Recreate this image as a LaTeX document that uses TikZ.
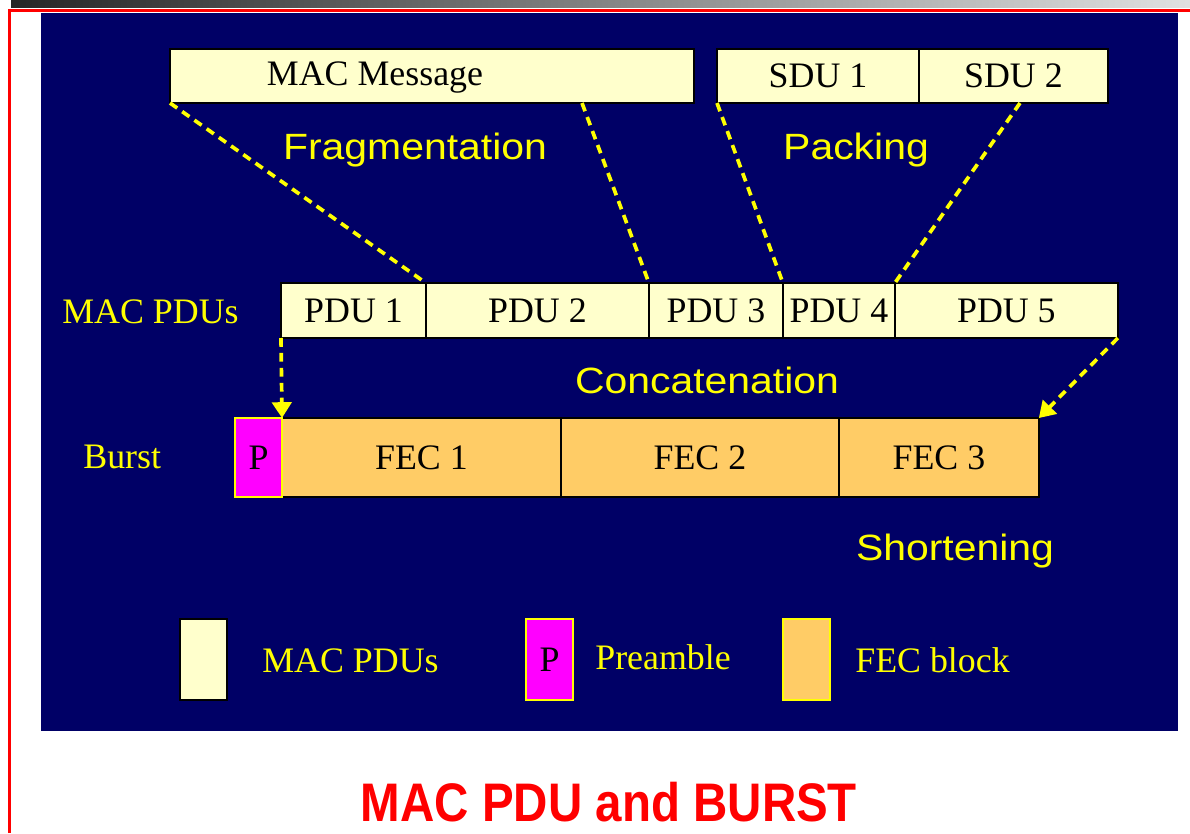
\documentclass[tikz,border=0pt]{standalone}
\usepackage{fontspec}
\setmainfont{Liberation Serif}
\newfontfamily\labelfont[FakeStretch=1.12]{Liberation Sans}
\newfontfamily\titlefont[FakeStretch=0.875]{Liberation Sans}
\usepackage{tikz}
\usetikzlibrary{positioning,arrows.meta}
\usepackage{xcolor}
\definecolor{navy}{RGB}{0,0,102}
\definecolor{cream}{RGB}{255,255,204}
\definecolor{fecorange}{RGB}{255,204,102}
\definecolor{pink}{RGB}{255,0,255}
\definecolor{lemon}{RGB}{255,255,0}
\definecolor{slidered}{RGB}{255,0,0}

\begin{document}
\begin{tikzpicture}[
    x=0.02cm, y=-0.02cm,
    serif/.style={font=\fontsize{20.4}{24}\selectfont},
    box/.style={rectangle, draw=black, line width=1.3pt, fill=cream, outer sep=0pt, inner sep=0pt, minimum height=1.1cm, serif},
    fecbox/.style={box, fill=fecorange, minimum height=1.58cm},
    preamble/.style={box, draw=lemon, fill=pink, minimum height=1.58cm, minimum width=0.94cm},
    keybox/.style={rectangle, line width=1.5pt, outer sep=0pt, inner sep=0pt, minimum width=0.94cm, minimum height=1.62cm, anchor=north west, serif},
    op/.style={text=lemon, font=\labelfont\fontsize{20.8}{24}\selectfont, inner sep=0pt, anchor=base},
    tag/.style={text=lemon, serif, inner sep=0pt, anchor=base west},
    link/.style={lemon, line width=2.1pt, dash pattern=on 5pt off 3.5pt},
    arrow/.style={link, -{Triangle[width=11pt,length=9pt]}}
]
\useasboundingbox (0,0) rectangle (1190,833);

% Slide frame
\shade[left color=black!85, right color=black!12] (11,0) rectangle (1190,7);
\draw[slidered, line width=1.4pt] (9.7,833) -- (9.7,10.7) -- (1190,10.7);
\fill[navy] (41,13) rectangle (1178,731);

% Nodes
\node[box, minimum width=10.48cm, minimum height=1.08cm, anchor=north west] (msg) at (170,49) {};
\node[serif] (msgtext) at (375,77) {MAC Message};
\node[box, minimum width=4.04cm, minimum height=1.08cm, anchor=north west] (sdu1) at (717,49) {SDU 1};
\node[box, minimum width=3.78cm, minimum height=1.08cm, right=0pt of sdu1] (sdu2) {SDU 2};

\node[box, minimum width=2.9cm, anchor=north west] (pdu1) at (281,283) {PDU 1};
\node[box, minimum width=4.46cm, right=0pt of pdu1] (pdu2) {PDU 2};
\node[box, minimum width=2.68cm, right=0pt of pdu2] (pdu3) {PDU 3};
\node[box, minimum width=2.24cm, right=0pt of pdu3] (pdu4) {PDU 4};
\node[box, minimum width=4.46cm, right=0pt of pdu4] (pdu5) {PDU 5};

\node[fecbox, minimum width=5.58cm, anchor=north west] (fec1) at (282,418) {FEC 1};
\node[fecbox, minimum width=5.56cm, right=0pt of fec1] (fec2) {FEC 2};
\node[fecbox, minimum width=4cm, right=0pt of fec2] (fec3) {FEC 3};
\node[preamble, left=0pt of fec1] (pre) {P};

% Arrows
\coordinate (cut1) at (582,103);
\coordinate (cut2) at (1020,103);
\draw[link] (msg.south west) -- (pdu1.north east);
\draw[link] (cut1) -- (pdu2.north east);
\draw[link] (sdu1.south west) -- (pdu3.north east);
\draw[link] (cut2) -- (pdu4.north east);
\draw[arrow] (pdu1.south west) -- (fec1.north west);
\draw[arrow] (pdu5.south east) -- (fec3.north east);

% Labels
\node[op] (frag) at (415,159) {Fragmentation};
\node[op] (pack) at (856,159) {Packing};
\node[op] (concat) at (707,393) {Concatenation};
\node[op] (shorten) at (955,560) {Shortening};
\node[tag] (pdurow) at (62,323) {MAC PDUs};
\node[tag] (burstrow) at (83,468) {Burst};

% Legend
\node[keybox, draw=black, fill=cream] (keypdu) at (180,619) {};
\node[keybox, draw=lemon, fill=pink] (keypre) at (526,619) {P};
\node[keybox, draw=lemon, fill=fecorange] (keyfec) at (783,619) {};
\node[tag] (keypdutext) at (262,672) {MAC PDUs};
\node[tag] (keypretext) at (595,669) {Preamble};
\node[tag] (keyfectext) at (855,672) {FEC block};

\node[text=slidered, font=\titlefont\bfseries\fontsize{30.9}{36}\selectfont, anchor=base] (title) at (609,821) {MAC PDU and BURST};

\end{tikzpicture}
\end{document}
